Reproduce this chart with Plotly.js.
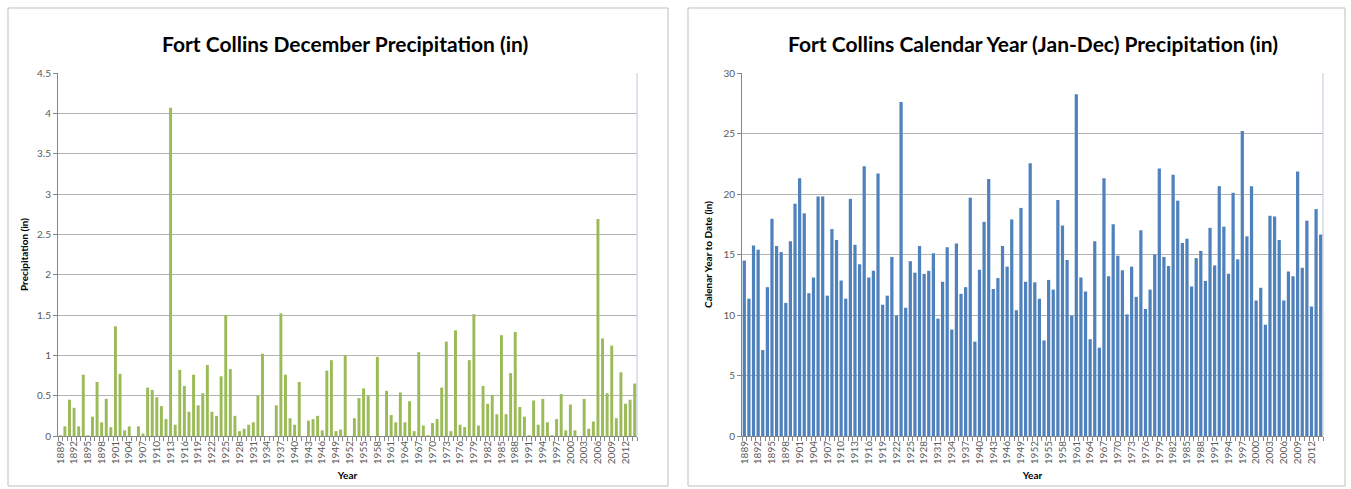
<!DOCTYPE html>
<html>
<head>
<meta charset="utf-8">
<script src="https://cdn.plot.ly/plotly-3.0.1.min.js"></script>
<style>
html,body{margin:0;padding:0;background:#ffffff;}
#chart{width:1351px;height:489px;}
</style>
</head>
<body>
<div id="chart"></div>
<script>
const years = [
1889,1890,1891,1892,1893,1894,1895,1896,1897,1898,
1899,1900,1901,1902,1903,1904,1905,1906,1907,1908,
1909,1910,1911,1912,1913,1914,1915,1916,1917,1918,
1919,1920,1921,1922,1923,1924,1925,1926,1927,1928,
1929,1930,1931,1932,1933,1934,1935,1936,1937,1938,
1939,1940,1941,1942,1943,1944,1945,1946,1947,1948,
1949,1950,1951,1952,1953,1954,1955,1956,1957,1958,
1959,1960,1961,1962,1963,1964,1965,1966,1967,1968,
1969,1970,1971,1972,1973,1974,1975,1976,1977,1978,
1979,1980,1981,1982,1983,1984,1985,1986,1987,1988,
1989,1990,1991,1992,1993,1994,1995,1996,1997,1998,
1999,2000,2001,2002,2003,2004,2005,2006,2007,2008,
2009,2010,2011,2012,2013,2014];

const decemberPrecip = [
0.01,0.12,0.45,0.35,0.12,0.76,0.01,0.24,0.67,0.17,
0.46,0.11,1.36,0.77,0.07,0.12,0.00,0.12,0.03,0.60,
0.57,0.48,0.37,0.21,4.07,0.14,0.82,0.62,0.30,0.76,
0.38,0.53,0.88,0.30,0.25,0.74,1.50,0.83,0.25,0.06,
0.09,0.14,0.17,0.50,1.02,0.00,0.00,0.38,1.52,0.76,
0.22,0.14,0.67,0.00,0.19,0.21,0.25,0.07,0.81,0.94,
0.06,0.08,1.00,0.00,0.22,0.47,0.59,0.50,0.00,0.98,
0.00,0.56,0.26,0.17,0.54,0.17,0.43,0.06,1.04,0.13,
0.01,0.16,0.21,0.60,1.17,0.06,1.31,0.14,0.11,0.94,
1.51,0.13,0.62,0.40,0.51,0.27,1.25,0.27,0.78,1.29,
0.36,0.24,0.01,0.44,0.14,0.46,0.17,0.01,0.21,0.52,
0.07,0.39,0.07,0.00,0.46,0.09,0.18,2.69,1.21,0.53,
1.12,0.22,0.79,0.40,0.45,0.65];

const annualPrecip = [
14.5,11.35,15.75,15.4,7.1,12.3,17.95,15.7,15.2,11.0,
16.1,19.2,21.3,18.4,11.8,13.1,19.8,19.8,11.6,17.1,
16.2,12.85,11.35,19.6,15.8,14.2,22.3,13.1,13.65,21.7,
10.85,11.6,14.8,9.95,27.6,10.6,14.45,13.5,15.7,13.4,
13.65,15.1,9.7,12.75,15.6,8.8,15.9,11.75,12.3,19.7,
7.8,13.75,17.7,21.25,12.15,13.05,15.7,14.0,17.9,10.4,
18.85,12.75,22.55,12.7,11.35,7.9,12.9,12.1,19.5,17.4,
14.55,9.95,28.25,13.1,11.95,8.0,16.1,7.3,21.3,13.2,
17.5,14.9,13.7,10.05,14.0,11.5,17.0,10.5,12.1,15.0,
22.1,14.8,14.05,21.6,19.45,15.95,16.3,12.35,14.7,15.3,
12.8,17.2,14.1,20.65,17.3,13.4,20.1,14.6,25.2,16.5,
20.65,11.2,12.25,9.2,18.2,18.15,16.2,11.2,13.6,13.2,
21.85,13.9,17.8,10.7,18.75,16.65];

const tickYears = [1889,1892,1895,1898,1901,1904,1907,1910,1913,1916,1919,1922,1925,1928,1931,1934,1937,1940,1943,1946,1949,1952,1955,1958,1961,1964,1967,1970,1973,1976,1979,1982,1985,1988,1991,1994,1997,2000,2003,2006,2009,2012];

const leftTitle = "Fort Collins December Precipitation (in)";
const rightTitle = "Fort Collins Calendar Year (Jan-Dec) Precipitation (in)";
const leftYTitle = "Precipitation (in)";
const rightYTitle = "Calenar Year to Date (in)";
const xTitle = "Year";

const W = 1351, H = 489;
const px = v => v / W;
const py = v => (H - v) / H;

const fontFam = "Lato, 'Open Sans', 'Liberation Sans', sans-serif";
const tickFont = {family: fontFam, size: 10, color: '#595959'};

function xAxis(domain, anchor) {
  return {
    domain: domain, anchor: anchor,
    range: [1888.5, 2014.5], autorange: false,
    tickvals: tickYears, ticktext: tickYears.map(String),
    tickangle: -90, tickfont: tickFont,
    ticks: '', showgrid: false, zeroline: false,
    showline: true, linecolor: '#868686', linewidth: 1,
    minor: {tick0: 1888.5, dtick: 1, ticks: 'outside', ticklen: 4, tickcolor: '#868686', showgrid: false},
    title: {text: xTitle, font: {family: fontFam, size: 10, color: '#000000', weight: 'bold'}, standoff: 8},
    fixedrange: true
  };
}
function yAxis(domain, anchor, range, dtick, titleText) {
  return {
    domain: domain, anchor: anchor,
    range: range, autorange: false, dtick: dtick, tick0: 0,
    tickfont: tickFont, ticks: 'outside', ticklen: 4, tickcolor: '#868686',
    showgrid: true, gridcolor: '#b3b3b3', gridwidth: 1,
    zeroline: false, showline: true, linecolor: '#868686', linewidth: 1,
    title: {text: titleText, font: {family: fontFam, size: 10, color: '#000000', weight: 'bold'}},
    fixedrange: true
  };
}

const yDom = [py(436), py(73)];
const traces = [
  {type: 'bar', x: years, y: decemberPrecip, xaxis: 'x', yaxis: 'y',
   marker: {color: '#9bbb59', line: {width: 0}}, width: 0.64, hoverinfo: 'x+y'},
  {type: 'bar', x: years, y: annualPrecip, xaxis: 'x2', yaxis: 'y2',
   marker: {color: '#4f81bd', line: {width: 0}}, width: 0.7, hoverinfo: 'x+y'}
];

const layout = {
  width: W, height: H,
  margin: {l: 0, r: 0, t: 0, b: 0},
  paper_bgcolor: '#ffffff', plot_bgcolor: '#ffffff',
  showlegend: false,
  xaxis: xAxis([px(58), px(637)], 'y'),
  yaxis: yAxis(yDom, 'x', [0, 4.5], 0.5, leftYTitle),
  xaxis2: xAxis([px(742), px(1323)], 'y2'),
  yaxis2: yAxis(yDom, 'x2', [0, 30], 5, rightYTitle),
  shapes: [
    {type: 'rect', xref: 'paper', yref: 'paper', x0: px(8), x1: px(668), y0: py(486), y1: py(8),
     line: {color: '#bfbfbf', width: 1}, fillcolor: 'rgba(0,0,0,0)', layer: 'below'},
    {type: 'rect', xref: 'paper', yref: 'paper', x0: px(688), x1: px(1345), y0: py(486), y1: py(8),
     line: {color: '#bfbfbf', width: 1}, fillcolor: 'rgba(0,0,0,0)', layer: 'below'},
    {type: 'line', xref: 'x domain', yref: 'y domain', x0: 1, x1: 1, y0: 0, y1: 1,
     line: {color: '#b9c9da', width: 1}},
    {type: 'line', xref: 'x2 domain', yref: 'y2 domain', x0: 1, x1: 1, y0: 0, y1: 1,
     line: {color: '#b9c9da', width: 1}}
  ],
  annotations: [
    {text: leftTitle, xref: 'paper', yref: 'paper', x: px(345), y: py(43), xanchor: 'center', yanchor: 'middle',
     showarrow: false, font: {family: fontFam, size: 21, color: '#000000', weight: 'bold'}},
    {text: rightTitle, xref: 'paper', yref: 'paper', x: px(1033), y: py(43), xanchor: 'center', yanchor: 'middle',
     showarrow: false, font: {family: fontFam, size: 21, color: '#000000', weight: 'bold'}}
  ]
};

Plotly.newPlot('chart', traces, layout, {displayModeBar: false, staticPlot: true});
</script>
</body>
</html>
